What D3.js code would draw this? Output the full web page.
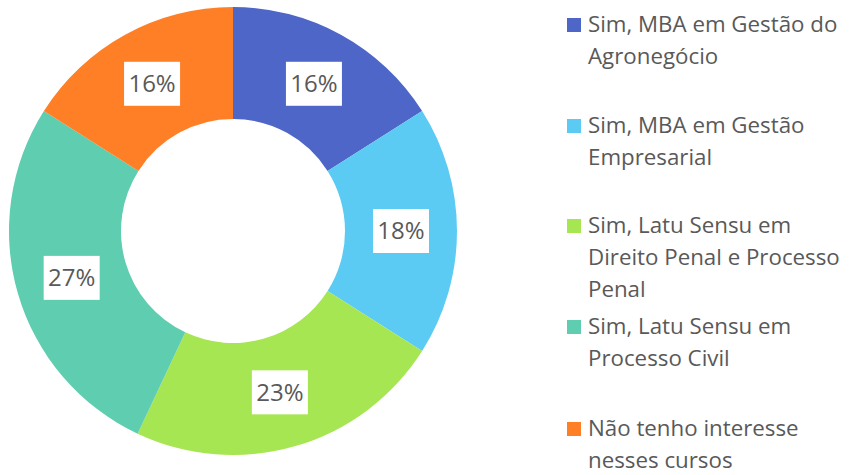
<html>
  <head>
    <meta charset="utf-8" />
    <title>Donut</title>
    <script src="https://cdn.jsdelivr.net/npm/d3@7"></script>
  </head>
  <style>
    html,
    body {
      margin: 0;
      padding: 0;
      background: #fff;
    }
    body {
      font-family: "Open Sans", "Noto Sans", sans-serif;
    }
  </style>
  <body>
    <svg width="854" height="475" id="mainsvg"></svg>
    <script>
      // data
      const categories = [
        ["Sim, MBA em Gestão do", "Agronegócio"],
        ["Sim, MBA em Gestão", "Empresarial"],
        ["Sim, Latu Sensu em", "Direito Penal e Processo", "Penal"],
        ["Sim, Latu Sensu em", "Processo Civil"],
        ["Não tenho interesse", "nesses cursos"],
      ];
      const values = [16, 18, 23, 27, 16];
      const colors = ["#4E66C8", "#5BCBF3", "#A6E653", "#5ECDB0", "#FF7F27"];
      const legendTop = [25, 126, 226, 327, 429];

      const svg = d3.select("svg");
      const cx = 233, cy = 231;
      const outerR = 224, innerR = 112;

      const pie = d3.pie().sort(null).value((d) => d);
      const arcs = pie(values);
      const arc = d3.arc().innerRadius(innerR).outerRadius(outerR);
      const total = d3.sum(values);

      const g = svg.append("g").attr("transform", `translate(${cx}, ${cy})`);

      g.selectAll(".slice")
        .data(arcs)
        .join("path")
        .attr("class", "slice")
        .attr("d", arc)
        .attr("fill", (d, i) => colors[i]);

      // labels in white boxes
      const labels = g
        .selectAll(".lbl")
        .data(arcs)
        .join("g")
        .attr("class", "lbl")
        .attr("transform", (d) => `translate(${arc.centroid(d)})`);

      labels
        .append("rect")
        .attr("x", -28)
        .attr("y", -22)
        .attr("width", 56)
        .attr("height", 44)
        .attr("fill", "#fff");

      labels
        .append("text")
        .attr("text-anchor", "middle")
        .attr("dy", "0.35em")
        .attr("font-size", 24)
        .attr("fill", "#595959")
        .text((d) => Math.round((d.value / total) * 100) + "%");

      // legend
      const legend = svg
        .selectAll(".legend")
        .data(categories)
        .join("g")
        .attr("class", "legend")
        .attr("transform", (d, i) => `translate(567, ${legendTop[i]})`);

      legend
        .append("rect")
        .attr("x", 0)
        .attr("y", -7)
        .attr("width", 14)
        .attr("height", 14)
        .attr("fill", (d, i) => colors[i]);

      legend
        .append("text")
        .attr("x", 21)
        .attr("font-size", 22.3)
        .attr("fill", "#595959")
        .selectAll("tspan")
        .data((d) => d)
        .join("tspan")
        .attr("x", 21)
        .attr("y", (d, j) => j * 32)
        .attr("dy", "0.33em")
        .text((d) => d);
    </script>
  </body>
</html>
